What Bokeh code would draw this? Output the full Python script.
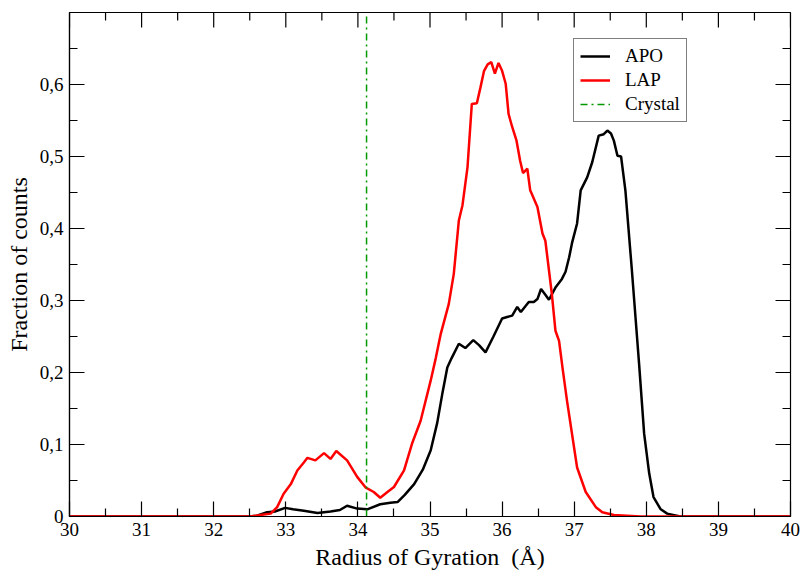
from bokeh.plotting import figure
from bokeh.models import (FixedTicker, CustomJSTickFormatter, Range1d,
                          Legend, LegendItem)
from bokeh.embed import file_html
from bokeh.resources import INLINE

# ---- data ----
apo_x = [30.0, 32.5, 32.6, 32.74, 32.85, 32.99, 33.1, 33.25, 33.44, 33.62, 33.75, 33.85,
         33.99, 34.13, 34.31, 34.45, 34.55, 34.65, 34.78, 34.9, 35.01, 35.1, 35.17, 35.24,
         35.3, 35.4, 35.49, 35.6, 35.68, 35.77, 35.88, 36.0, 36.07, 36.14, 36.21, 36.26,
         36.37, 36.44, 36.49, 36.54, 36.6, 36.65, 36.74, 36.83, 36.88, 36.93, 36.97, 37.04,
         37.09, 37.18, 37.25, 37.34, 37.41, 37.46, 37.51, 37.55, 37.6, 37.65, 37.71, 37.8,
         37.9, 37.97, 38.04, 38.1, 38.2, 38.29, 38.47, 40.0]
apo_y = [0.0, 0.0, 0.001, 0.006, 0.007, 0.012, 0.010, 0.008, 0.005, 0.007, 0.009, 0.015,
         0.011, 0.010, 0.017, 0.019, 0.020, 0.030, 0.045, 0.065, 0.092, 0.130, 0.170, 0.207,
         0.220, 0.240, 0.234, 0.245, 0.238, 0.228, 0.250, 0.275, 0.277, 0.279, 0.291, 0.284,
         0.298, 0.298, 0.302, 0.316, 0.308, 0.301, 0.318, 0.330, 0.340, 0.360, 0.380, 0.407,
         0.453, 0.471, 0.492, 0.529, 0.531, 0.536, 0.532, 0.522, 0.501, 0.500, 0.453, 0.342,
         0.212, 0.115, 0.060, 0.027, 0.010, 0.004, 0.0, 0.0]

lap_x = [30.0, 32.5, 32.65, 32.79, 32.88, 32.97, 33.07, 33.16, 33.25, 33.3, 33.41, 33.53,
         33.62, 33.7, 33.85, 33.99, 34.11, 34.22, 34.31, 34.41, 34.5, 34.64, 34.75, 34.87,
         35.01, 35.08, 35.15, 35.26, 35.33, 35.4, 35.45, 35.52, 35.58, 35.65, 35.7, 35.75,
         35.8, 35.85, 35.9, 35.95, 36.0, 36.05, 36.09, 36.14, 36.2, 36.25, 36.29, 36.35,
         36.39, 36.49, 36.56, 36.6, 36.69, 36.74, 36.79, 36.84, 36.9, 37.04, 37.16, 37.3,
         37.39, 37.55, 37.92, 40.0]
lap_y = [0.0, 0.0, 0.002, 0.004, 0.013, 0.0315, 0.045, 0.064, 0.075, 0.0815, 0.078, 0.088,
         0.080, 0.091, 0.078, 0.055, 0.040, 0.034, 0.026, 0.034, 0.041, 0.064, 0.101, 0.133,
         0.189, 0.220, 0.254, 0.295, 0.337, 0.411, 0.432, 0.485, 0.573, 0.574, 0.596, 0.619,
         0.628, 0.631, 0.615, 0.630, 0.619, 0.601, 0.559, 0.541, 0.522, 0.494, 0.477, 0.483,
         0.453, 0.430, 0.393, 0.383, 0.309, 0.258, 0.244, 0.205, 0.161, 0.068, 0.034, 0.013,
         0.006, 0.002, 0.0, 0.0]

crystal_rg = 34.12

x_ticks = [30, 31, 32, 33, 34, 35, 36, 37, 38, 39, 40]
y_ticks = [0, 0.1, 0.2, 0.3, 0.4, 0.5, 0.6]
x_minor = [t + 0.5 for t in x_ticks[:-1]]
y_minor = [0.05, 0.15, 0.25, 0.35, 0.45, 0.55, 0.65]

X0, X1 = 30, 40
Y0, Y1 = 0, 0.7
W, H = 801, 573
BL, BR, BT, BB = 69, 11, 12, 57
FONT = "Liberation Serif"

p = figure(width=W, height=H, output_backend="svg", toolbar_location=None,
           x_range=Range1d(X0, X1), y_range=Range1d(Y0, Y1),
           min_border_left=BL, min_border_right=BR, min_border_top=BT,
           min_border_bottom=BB, background_fill_color="white",
           border_fill_color="white")
p.xgrid.visible = False
p.ygrid.visible = False
p.outline_line_color = "black"
p.outline_line_width = 1.2

for ax, ticks, minor in ((p.xaxis[0], x_ticks, x_minor), (p.yaxis[0], y_ticks, y_minor)):
    ax.ticker = FixedTicker(ticks=ticks, minor_ticks=minor)
    ax.axis_line_color = "black"
    ax.axis_line_width = 1.2
    ax.major_tick_line_color = "black"
    ax.minor_tick_line_color = "black"
    ax.major_tick_line_width = 1.2
    ax.minor_tick_line_width = 1.2
    ax.major_tick_in = 15
    ax.major_tick_out = 0
    ax.minor_tick_in = 8
    ax.minor_tick_out = 0
    ax.major_label_text_font = FONT
    ax.major_label_text_color = "black"
    ax.major_label_text_font_size = "19px"
    ax.major_label_standoff = 6

p.yaxis[0].formatter = CustomJSTickFormatter(
    code="return tick == 0 ? '0' : tick.toFixed(1).replace('.', ',');")
p.xaxis[0].formatter = CustomJSTickFormatter(code="return tick.toFixed(0);")

for ax, lab in ((p.xaxis[0], "Radius of Gyration\u00a0 (Å)"),
                (p.yaxis[0], "Fraction of counts")):
    ax.axis_label = lab
    ax.axis_label_text_font = FONT
    ax.axis_label_text_font_size = "24px"
    ax.axis_label_text_font_style = "normal"
    ax.axis_label_text_color = "black"
    ax.axis_label_standoff = 5

# mirrored inward tick marks on the top and right frame edges
MAJ, MIN = 15, 8
ux = (X1 - X0) / (W - BL - BR)   # data units per pixel, x
uy = (Y1 - Y0) / (H - BT - BB)   # data units per pixel, y
top_x = x_ticks + x_minor
top_len = [MAJ * uy] * len(x_ticks) + [MIN * uy] * len(x_minor)
right_y = y_ticks + y_minor
right_len = [MAJ * ux] * len(y_ticks) + [MIN * ux] * len(y_minor)
p.segment(x0=top_x, y0=[Y1] * len(top_x), x1=top_x,
          y1=[Y1 - l for l in top_len], line_color="black", line_width=1.2)
p.segment(x0=[X1] * len(right_y), y0=right_y, x1=[X1 - l for l in right_len],
          y1=right_y, line_color="black", line_width=1.2)

r_apo = p.line(apo_x, apo_y, line_color="black", line_width=2.5)
r_lap = p.line(lap_x, lap_y, line_color="#ff0000", line_width=2.5)
r_cry = p.line([crystal_rg, crystal_rg], [Y0, Y1], line_color="#009a00",
               line_width=1.5, line_dash="7 4 2 4")

legend = Legend(items=[LegendItem(label="APO", renderers=[r_apo]),
                       LegendItem(label="LAP", renderers=[r_lap]),
                       LegendItem(label="Crystal", renderers=[r_cry])],
                location=(504, 394))
legend.label_text_font = FONT
legend.label_text_font_size = "19px"
legend.label_text_color = "black"
legend.glyph_width = 30
legend.glyph_height = 20
legend.label_height = 20
legend.label_standoff = 15
legend.spacing = 2
legend.padding = 6
legend.margin = 0
legend.border_line_color = "black"
legend.border_line_width = 1
legend.background_fill_color = "white"
legend.background_fill_alpha = 1
p.add_layout(legend)

open("out.html", "w").write(file_html(p, INLINE))
